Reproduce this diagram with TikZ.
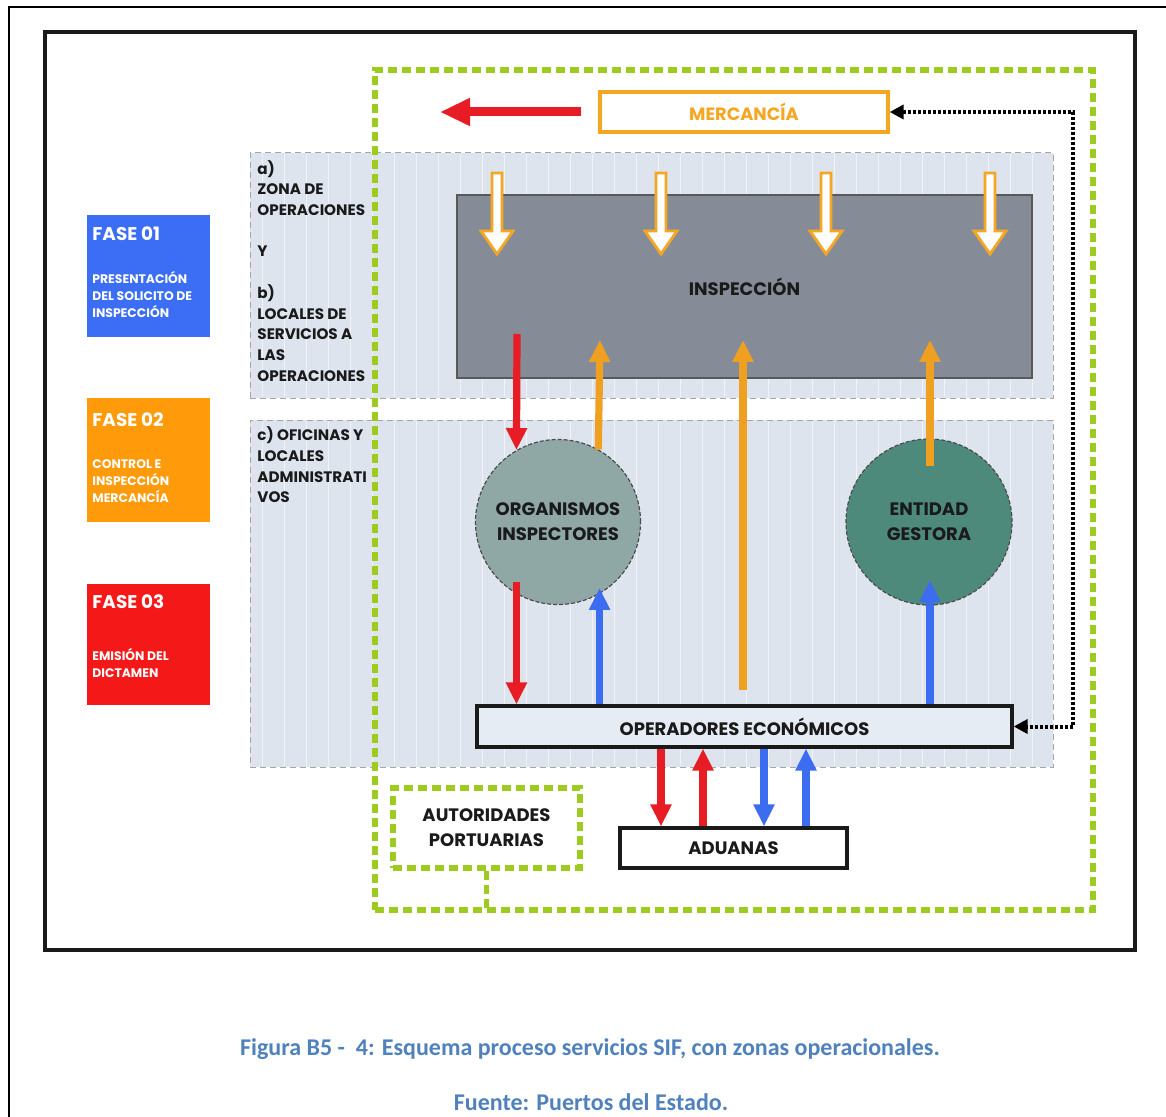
\documentclass[tikz,border=0pt]{standalone}
\usepackage{fontspec}
\setmainfont{Poppins}
\newfontfamily\capfont{Carlito}
\usetikzlibrary{arrows.meta,calc}

\definecolor{fblue}{HTML}{3B6EF5}
\definecolor{forange}{HTML}{FF9A0A}
\definecolor{fred}{HTML}{F51818}
\definecolor{zonefill}{HTML}{DDE4EE}
\definecolor{inspfill}{HTML}{868C97}
\definecolor{orgfill}{HTML}{8FA8A5}
\definecolor{entfill}{HTML}{4E8A7C}
\definecolor{portgreen}{HTML}{9DCB1F}
\definecolor{arrred}{HTML}{E81C24}
\definecolor{arrorange}{HTML}{F0A020}
\definecolor{arrblue}{HTML}{3C6CF0}
\definecolor{mercorange}{HTML}{F5A623}
\definecolor{operfill}{HTML}{E6ECF3}
\definecolor{ink}{HTML}{1A1A1A}
\definecolor{capblue}{HTML}{4F81BD}

\tikzset{
  greendash/.style={draw=portgreen, line width=2.6pt, dash pattern=on 4.5pt off 2.5pt},
  zone/.style={draw=gray!70, fill=zonefill, line width=0.5pt, dash pattern=on 3pt off 2pt},
  phasebox/.style={rectangle, minimum width=61.5pt, minimum height=61pt, inner sep=0pt},
  phasetitle/.style={anchor=base west, inner sep=0pt, text=white, font=\bfseries\fontsize{9.2}{10}\selectfont},
  phasetext/.style={anchor=base west, inner sep=0pt, text=white, font=\bfseries\fontsize{6.2}{7}\selectfont},
  zonetext/.style={anchor=base west, inner sep=0pt, text=ink, font=\bfseries\fontsize{7.6}{8}\selectfont},
  label/.style={text=ink, font=\bfseries\fontsize{9}{12.5}\selectfont, align=center},
  flow/.style={line width=3.6pt, -{Triangle[length=11pt,width=10pt]}},
  bigflow/.style={line width=4.5pt, -{Triangle[length=15pt,width=13pt]}},
  hollow/.style={draw=mercorange, fill=white, line width=1.4pt, line join=miter},
  dotlink/.style={draw=black, line width=2pt, dash pattern=on 1.6pt off 0.9pt,
    {Triangle[length=7pt,width=7pt]}-{Triangle[length=7pt,width=7pt]}},
  captext/.style={text=capblue, font=\capfont\bfseries\fontsize{12}{14}\selectfont, inner sep=0pt},
}

\begin{document}
\begin{tikzpicture}[x=0.5pt,y=-0.5pt]
\useasboundingbox (0,0) rectangle (1166,1117);
\fill[white] (0,0) rectangle (1166,1117);

% page rules
\draw[line width=1pt] (8,7) -- (1166,7);
\draw[line width=1pt] (9,7) -- (9,1117);

% diagram frame
\draw[draw=ink, line width=1.8pt] (45,32) rectangle (1135,950);

% zones
\node[zone, rectangle, minimum width=401.5pt, minimum height=122.5pt, inner sep=0pt] (zab) at (651.5,275.5) {};
\node[zone, rectangle, minimum width=401.5pt, minimum height=173.5pt, inner sep=0pt] (zc) at (651.5,593.5) {};
\begin{scope}
  \clip (251,154) rectangle (1052,397);
  \foreach \x in {262,284,...,1052} \draw[white!55!zonefill, line width=0.3pt] (\x,154) -- (\x,397);
\end{scope}
\begin{scope}
  \clip (251,421) rectangle (1052,766);
  \foreach \x in {262,284,...,1052} \draw[white!55!zonefill, line width=0.3pt] (\x,421) -- (\x,766);
\end{scope}

% port authority boundary
\node[greendash, rectangle, minimum width=359pt, minimum height=420pt, inner sep=0pt] (port) at (734,490) {};

% zone captions
\foreach \y/\t in {175/a), 195/ZONA DE, 216/OPERACIONES, 257/Y, 299/b), 320/LOCALES DE, 340/SERVICIOS A, 361/LAS, 381/OPERACIONES,
                   440/c) OFICINAS Y, 461/LOCALES, 482/ADMINISTRATI, 502/VOS}
  \node[zonetext] at (257,\y) {\t};

% phases
\node[phasebox, fill=fblue] (f1) at (148.5,276) {};
\node[phasebox, fill=forange, minimum height=62pt] (f2) at (148.5,460) {};
\node[phasebox, fill=fred, minimum height=60.5pt] (f3) at (148.5,644.5) {};
\node[phasetitle] at (92,241) {FASE 01};
\node[phasetext] at (92,284) {PRESENTACIÓN};
\node[phasetext] at (92,301) {DEL SOLICITO DE};
\node[phasetext] at (92,318) {INSPECCIÓN};
\node[phasetitle] at (92,426) {FASE 02};
\node[phasetext] at (92,468) {CONTROL E};
\node[phasetext] at (92,485) {INSPECCIÓN};
\node[phasetext] at (92,502) {MERCANCÍA};
\node[phasetitle] at (92,608) {FASE 03};
\node[phasetext] at (92,660) {EMISIÓN DEL};
\node[phasetext] at (92,677) {DICTAMEN};

% goods
\node[draw=mercorange, fill=white, line width=1.6pt, rectangle, minimum width=144pt, minimum height=20pt, inner sep=0pt,
      text=mercorange, font=\bfseries\fontsize{8.9}{10}\selectfont] (merc) at (744,112) {MERCANCÍA};
\coordinate (out) at (440,112);
\draw[bigflow, arrred] ($(merc.west)+(-17,0)$) -- (out);

% inspection area
\node[draw=black!65, fill=inspfill, line width=0.8pt, rectangle, minimum width=287.5pt, minimum height=91.5pt, inner sep=0pt] (insp) at (744.5,286.5) {};
\node[label] at (insp.center) {INSPECCIÓN};
\foreach \x in {497,661,826,990}
  \draw[hollow] ({\x-5},173) -- ({\x+5},173) -- ({\x+5},231) -- ({\x+16},231) -- (\x,254) -- ({\x-16},231) -- ({\x-5},231) -- cycle;

% actors
\node[circle, draw=black!70, dash pattern=on 2pt off 1pt, line width=0.6pt, fill=orgfill, minimum size=82.5pt, inner sep=0pt] (org) at (558,522) {};
\node[label] at (org.center) {ORGANISMOS\\INSPECTORES};
\node[circle, draw=black!70, dash pattern=on 2pt off 1pt, line width=0.6pt, fill=entfill, minimum size=83pt, inner sep=0pt] (ent) at (929,522) {};
\node[label] at (ent.center) {ENTIDAD\\GESTORA};

\node[draw=ink, fill=operfill, line width=1.6pt, rectangle, minimum width=267.5pt, minimum height=20.5pt, inner sep=0pt] (oper) at (744.5,726.5) {};
\node[label] at (oper.center) {OPERADORES ECONÓMICOS};
\node[draw=ink, fill=white, line width=1.6pt, rectangle, minimum width=113.5pt, minimum height=20pt, inner sep=0pt] (adu) at (733.5,848) {};
\node[label] at (adu.center) {ADUANAS};
\node[greendash, fill=white, rectangle, minimum width=93.5pt, minimum height=40pt, inner sep=0pt] (auth) at (486.5,828) {};
\node[label] at (auth.center) {AUTORIDADES\\PORTUARIAS};
\draw[greendash] (auth.south) -- (auth.south |- port.south);

% flows between inspection and actors
\coordinate (i1) at (517,334);
\coordinate (i2) at (600,340);
\coordinate (i3) at (743,340);
\coordinate (i4) at (930,340);
\coordinate (o3) at (743,690);
\coordinate (e1) at (930,466);
\coordinate (e2) at (930,580);
\draw[flow, arrred] (i1) -- (org.120);
\draw[flow, arrorange] (org.61) -- (i2);
\draw[flow, arrorange] (o3) -- (i3);
\draw[flow, arrorange] (e1) -- (i4);
\draw[flow, arrred] ($(org.240)+(0,-12)$) -- (oper.north -| org.240);
\draw[flow, arrblue] (oper.north -| org.300) -- ($(org.300)+(0,-6)$);
\draw[flow, arrblue] (oper.north -| e2) -- (e2);

% flows with customs
\draw[flow, arrred] (oper.south -| 661,0) -- (adu.north -| 661,0);
\draw[flow, arrred] (adu.north -| 703,0) -- (oper.south -| 703,0);
\draw[flow, arrblue] (oper.south -| 764,0) -- (adu.north -| 764,0);
\draw[flow, arrblue] (adu.north -| 806,0) -- (oper.south -| 806,0);

% information return
\coordinate (ret) at (1073,0);
\draw[dotlink] (merc.east) -- (merc.east -| ret) -- (oper.east -| ret) -- (oper.east);

% caption
\node[captext] (cap1) at (590,1049) {Figura B5 -\ \ 4: Esquema proceso servicios SIF, con zonas operacionales.};
\node[captext] (cap2) at (591,1102) {Fuente: Puertos del Estado.};
\end{tikzpicture}
\end{document}
